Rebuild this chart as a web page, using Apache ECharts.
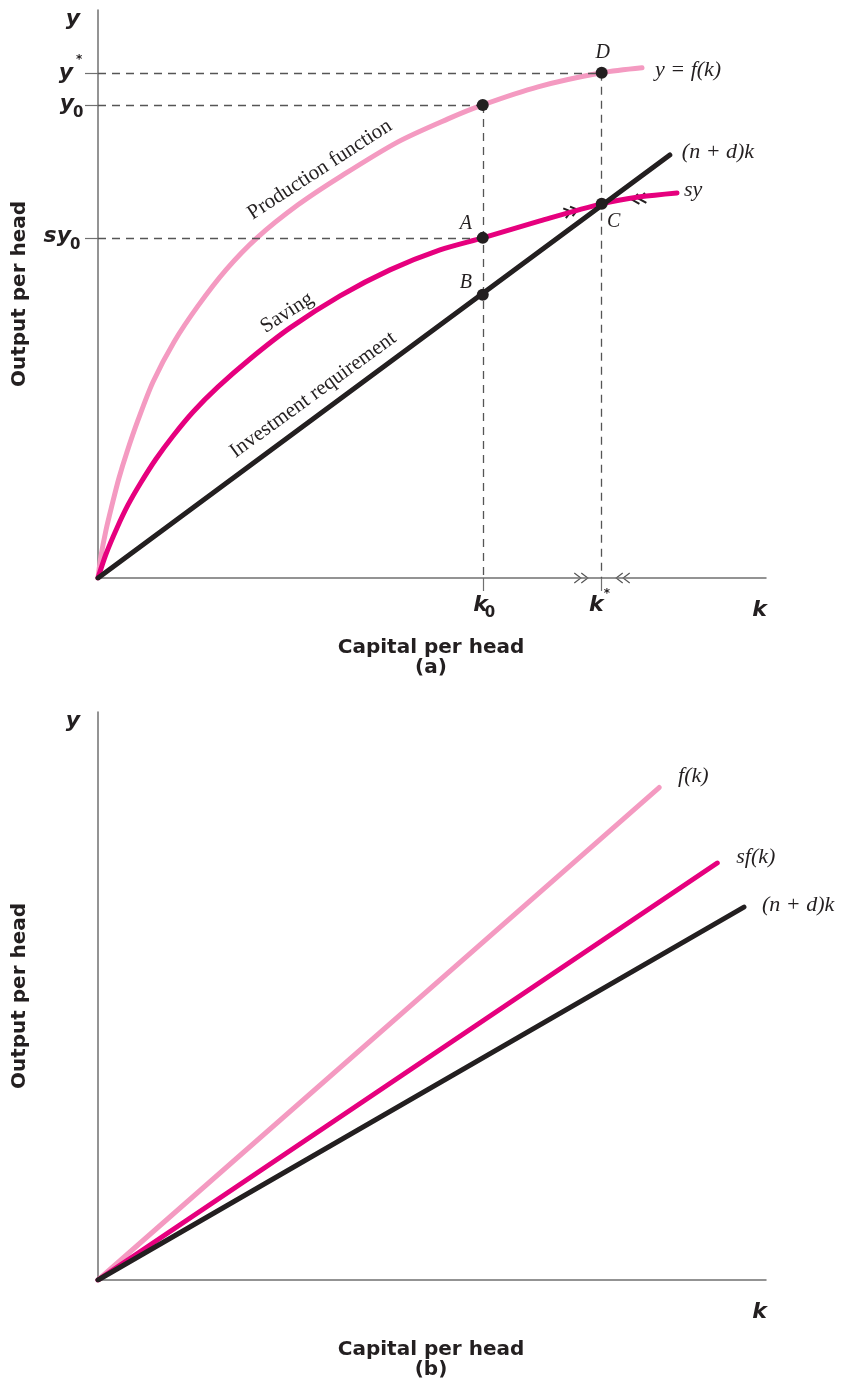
<!DOCTYPE html>
<html lang="en">
<head>
<meta charset="UTF-8">
<title>Output and capital per head</title>
<script src="https://cdn.jsdelivr.net/npm/echarts@6/dist/echarts.min.js"></script>
<style>
    html, body { margin: 0; padding: 0; background: #fff; }
    #main { width: 846px; height: 1389px; }
</style>
</head>
<body>
<div id="main"></div>
<script type="text/javascript">
// panel (a): curves (k and y share one unit)
var prodK = [0, 0.45, 1.2, 2.1, 3.14, 4.34, 6.0, 8.23, 11.38, 14.97, 19.16, 23.8, 29.94, 36.23, 44.91, 52.4, 57.6, 65.87, 75.4, 81.44];
var prodY = [0, 3.29, 7.19, 10.93, 14.97, 18.86, 23.65, 29.34, 35.33, 40.72, 46.11, 50.9, 55.84, 60.03, 65.27, 68.71, 70.8, 73.5, 75.6, 76.35];
var saveK = [0, 1.2, 2.84, 4.49, 6.29, 8.68, 11.23, 14.22, 17.96, 22.75, 28.74, 36.23, 43.71, 51.2, 57.6, 66.17, 75.4, 81.14, 86.68];
var saveY = [0, 3.59, 7.49, 10.93, 14.07, 17.81, 21.26, 24.85, 28.59, 32.78, 37.43, 42.22, 46.11, 49.1, 50.9, 53.44, 55.99, 57.04, 57.63];
var investK = [0, 85.6];
var investY = [0, 63.3];

var k0 = 57.6, kStar = 75.4;
var y0 = 70.8, yStar = 75.6, sy0 = 50.9;
var yB = 42.4, yC = 56.0;

// panel (b): straight lines
var fK = [0, 84.0], fY = [0, 73.7];
var sfK = [0, 92.7], sfY = [0, 62.4];
var ndK = [0, 96.7], ndY = [0, 55.8];

var pink = '#f49ac1', magenta = '#e6007e', ink = '#231f20';
var axisGray = '#707070', dashGray = '#555555';
var sans = '"DejaVu Sans", "Noto Sans", sans-serif';
var serif = '"Liberation Serif", "DejaVu Serif", serif';

function pairs(xs, ys) {
    return xs.map(function (x, i) { return [x, ys[i]]; });
}

function makeAxis(gi, max, ticks) {
    return {
        gridIndex: gi, type: 'value', min: 0, max: max,
        axisLine: { show: true, onZero: false, lineStyle: { color: axisGray, width: 1.5 } },
        axisTick: ticks.length ? { show: true, customValues: ticks, length: 13, lineStyle: { color: axisGray, width: 1.2 } } : { show: false },
        axisLabel: { show: false },
        splitLine: { show: false }
    };
}

function curve(name, data, color, gi) {
    return {
        name: name, type: 'line', xAxisIndex: gi, yAxisIndex: gi,
        data: data, showSymbol: false, smooth: 0.3,
        lineStyle: { color: color, width: 5, cap: 'round' }, z: 3
    };
}

var myChart = echarts.init(document.getElementById('main'));
var guide = [
    [{ coord: [0, yStar] }, { coord: [kStar, yStar] }],
    [{ coord: [0, y0] }, { coord: [k0, y0] }],
    [{ coord: [0, sy0] }, { coord: [k0, sy0] }],
    [{ coord: [kStar, yStar] }, { coord: [kStar, 0] }],
    [{ coord: [k0, y0] }, { coord: [k0, 0] }]
];

var option = {
    animation: false,
    grid: [
        { left: 98, top: 10, width: 668, height: 568 },
        { left: 98, top: 712, width: 668, height: 568 }
    ],
    xAxis: [makeAxis(0, 100, [k0, kStar]), makeAxis(1, 100, [])],
    yAxis: [makeAxis(0, 85, [sy0, y0, yStar]), makeAxis(1, 85, [])],
    series: [
        curve('Production function', pairs(prodK, prodY), pink, 0),
        curve('Saving', pairs(saveK, saveY), magenta, 0),
        curve('Investment requirement', pairs(investK, investY), ink, 0),
        {
            name: 'points', type: 'scatter', xAxisIndex: 0, yAxisIndex: 0,
            symbolSize: 12, itemStyle: { color: ink, opacity: 1 }, z: 5,
            data: [[k0, y0], [kStar, yStar], [k0, sy0], [k0, yB], [kStar, yC]],
            markLine: {
                silent: true, symbol: ['none', 'none'], label: { show: false },
                lineStyle: { color: dashGray, type: [8, 6], width: 1.3 },
                data: guide
            }
        },
        curve('f(k)', pairs(fK, fY), pink, 1),
        curve('sf(k)', pairs(sfK, sfY), magenta, 1),
        curve('(n + d)k', pairs(ndK, ndY), ink, 1)
    ]
};
myChart.setOption(option);

function px(gi, pt) {
    return myChart.convertToPixel({ gridIndex: gi }, pt);
}

function txt(p, dx, dy, s, font, align, rot) {
    return {
        type: 'text', x: p[0] + dx, y: p[1] + dy, rotation: (rot || 0) * Math.PI / 180,
        style: { text: s, font: font, fill: ink, align: align || 'left', verticalAlign: 'middle' }
    };
}

function chevrons(p, deg, dir, color, lw) {
    var pts = dir > 0 ? [[-4.5, -5], [2, 0], [-4.5, 5]] : [[4.5, -5], [-2, 0], [4.5, 5]];
    var kids = [-3.5, 3.5].map(function (off) {
        return { type: 'polyline', x: off, shape: { points: pts }, style: { stroke: color, lineWidth: lw, fill: null } };
    });
    return { type: 'group', x: p[0], y: p[1], rotation: deg * Math.PI / 180, children: kids };
}

var mathFont = 'italic bold 22px ' + sans;
var subFont = 'bold 15px ' + sans;
var supFont = 'bold 12px ' + sans;
var titleFont = 'bold 20px ' + sans;
var serifIt = 'italic 22px ' + serif;
var pointFont = 'italic 20px ' + serif;
var serifUp = '21px ' + serif;

var oA = px(0, [0, 0]), topA = px(0, [0, 85]), endA = px(0, [100, 0]);
var oB = px(1, [0, 0]), topB = px(1, [0, 85]), endB = px(1, [100, 0]);
var midX = 431;

var g = [
    // panel (a) axis letters
    txt(topA, -18, 9, 'y', mathFont, 'right'),
    txt(endA, 1, 32, 'k', mathFont, 'right'),
    txt(px(0, [0, yStar]), -25, 0, 'y', mathFont, 'right'),
    txt(px(0, [0, yStar]), -22, -13, '*', supFont, 'left'),
    txt(px(0, [0, y0]), -24, -1, 'y', mathFont, 'right'),
    txt(px(0, [0, y0]), -25, 8, '0', subFont, 'left'),
    txt(px(0, [0, sy0]), -27, -2, 'sy', mathFont, 'right'),
    txt(px(0, [0, sy0]), -28, 7, '0', subFont, 'left'),
    txt(px(0, [k0, 0]), 5, 27, 'k', mathFont, 'right'),
    txt(px(0, [k0, 0]), 2, 35, '0', subFont, 'left'),
    txt(px(0, [kStar, 0]), 2, 27, 'k', mathFont, 'right'),
    txt(px(0, [kStar, 0]), 2, 16, '*', supFont, 'left'),
    txt([midX, 648], 0, 0, 'Capital per head', titleFont, 'center'),
    txt([midX, 668], 0, 0, '(a)', titleFont, 'center'),
    txt([20, (topA[1] + oA[1]) / 2], 0, 0, 'Output per head', titleFont, 'center', 90),
    // point labels
    txt(px(0, [kStar, yStar]), 1, -20, 'D', pointFont, 'center'),
    txt(px(0, [k0, sy0]), -17, -14, 'A', pointFont, 'center'),
    txt(px(0, [k0, yB]), -17, -12, 'B', pointFont, 'center'),
    txt(px(0, [kStar, yC]), 12, 18, 'C', pointFont, 'center'),
    // curve labels
    txt(px(0, [prodK[prodK.length - 1], prodY[prodY.length - 1]]), 13, 2, 'y = f(k)', serifIt),
    txt(px(0, [investK[1], investY[1]]), 12, -3, '(n + d)k', serifIt),
    txt(px(0, [saveK[saveK.length - 1], saveY[saveY.length - 1]]), 7, -3, 'sy', serifIt),
    txt(px(0, [33.2, 61.1]), 0, 0, 'Production function', serifUp, 'center', 33),
    txt(px(0, [28.3, 39.7]), 0, 0, 'Saving', serifUp, 'center', 33),
    txt(px(0, [32.2, 27.4]), 0, 0, 'Investment requirement', serifUp, 'center', 36),
    // arrows toward the steady state
    chevrons(px(0, [72.5, 0]), 0, 1, '#555', 1.2),
    chevrons(px(0, [78.4, 0]), 0, -1, '#555', 1.2),
    chevrons(px(0, [71.0, 54.9]), 15, 1, ink, 2),
    chevrons(px(0, [80.8, 56.7]), 8, -1, ink, 2),
    // panel (b)
    txt(topB, -18, 9, 'y', mathFont, 'right'),
    txt(endB, 1, 32, 'k', mathFont, 'right'),
    txt([midX, 1350], 0, 0, 'Capital per head', titleFont, 'center'),
    txt([midX, 1370], 0, 0, '(b)', titleFont, 'center'),
    txt([20, (topB[1] + oB[1]) / 2], 0, 0, 'Output per head', titleFont, 'center', 90),
    txt(px(1, [fK[1], fY[1]]), 19, -11, 'f(k)', serifIt),
    txt(px(1, [sfK[1], sfY[1]]), 19, -6, 'sf(k)', serifIt),
    txt(px(1, [ndK[1], ndY[1]]), 18, -2, '(n + d)k', serifIt)
];
myChart.setOption({ graphic: g });
</script>
</body>
</html>
